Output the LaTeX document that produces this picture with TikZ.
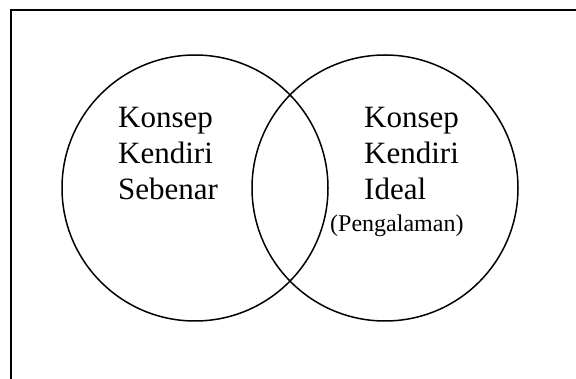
\documentclass[tikz,border=0pt]{standalone}
\usepackage{fontspec}
\setmainfont{Liberation Serif}

\begin{document}
\begin{tikzpicture}[x=1pt,y=-1pt]
\tikzstyle{bord}=[line width=2pt]
\tikzset{cercle/.style={circle,draw,line width=1.5pt,minimum size=266pt,inner sep=0pt,outer sep=0pt},
texte/.style={align=left,inner sep=0pt,font=\fontsize{31}{36}\selectfont},
texte/.default={}}
\clip (0,0) rectangle (576,379);
\draw[bord] (11,10) rectangle (600,420);
\node[cercle] (Sebenar) at (195,188) {};
\node[cercle] (Ideal) at (385,188) {};

\node[texte,anchor=base west] (T1) at (118,200) {Konsep\\Kendiri\\Sebenar};
\node[texte,anchor=base west] (T2) at (364,200) {Konsep\\Kendiri\\Ideal};
\node[inner sep=0pt,anchor=base west,font=\fontsize{24}{28}\selectfont] (T3) at (330,232) {(Pengalaman)};

\end{tikzpicture}
\end{document}
